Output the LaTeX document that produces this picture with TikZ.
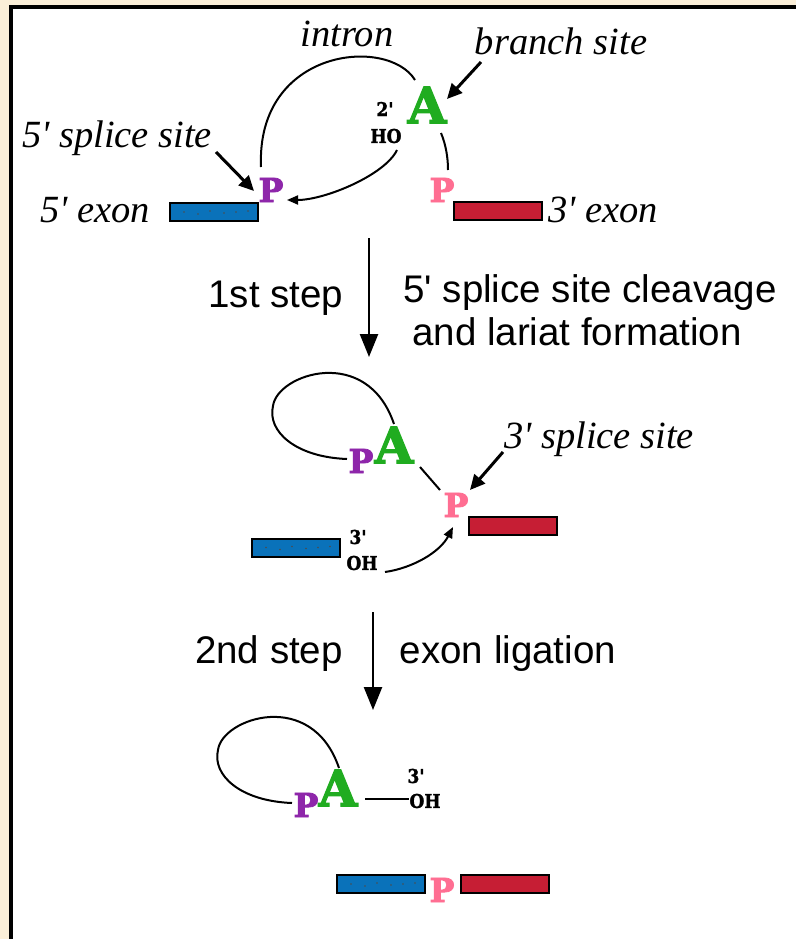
\documentclass[tikz,border=0pt]{standalone}
\usepackage{fontspec}
\usetikzlibrary{arrows.meta,calc}
\newfontfamily\capfont{Liberation Serif}
\newfontfamily\labfont{Liberation Sans}
\newfontfamily\letfont[BoldFeatures={FakeBold=2.5}]{DejaVu Serif}
\newfontfamily\chemfont[BoldFeatures={FakeBold=1.5}]{DejaVu Serif Condensed}
\definecolor{beige}{RGB}{251,239,216}
\definecolor{exblue}{RGB}{10,114,186}
\definecolor{exred}{RGB}{198,30,52}
\definecolor{ntgreen}{RGB}{32,172,32}
\definecolor{ntpurple}{RGB}{142,38,170}
\definecolor{ntpink}{RGB}{255,110,146}
\tikzset{
  itlab/.style={inner sep=0pt,font=\capfont\itshape\fontsize{38.5}{44}\selectfont},
  sflab/.style={inner sep=0pt,font=\labfont\fontsize{38.5}{43}\selectfont},
  chem/.style={inner sep=0pt,font=\chemfont\bfseries\fontsize{19}{19}\selectfont},
  bigA/.style={inner sep=0pt,text=ntgreen,font=\letfont\bfseries\fontsize{50}{50}\selectfont},
  phos/.style={inner sep=0pt,font=\letfont\bfseries\fontsize{33}{33}\selectfont},
  exonbox/.style={draw=black,line width=2pt,minimum height=18pt,inner sep=0pt},
  bluebox/.style={exonbox,fill=exblue,minimum width=88pt},
  redbox/.style={exonbox,fill=exred,minimum width=88pt},
  strand/.style={line width=2pt},
  curvearrow/.style={line width=2pt,-{Triangle[length=11pt,width=9pt]}},
  pointer/.style={line width=3pt,-{Triangle[length=15pt,width=14pt]}},
  steparrow/.style={line width=2.5pt,-{Triangle[length=23pt,width=18pt]}},
}
\begin{document}
\begin{tikzpicture}[x=1pt,y=-1pt]
\useasboundingbox (0,0) rectangle (796,939);
% frame
\fill[beige] (0,0) rectangle (796,939);
\fill[white] (12,8) rectangle (796,939);
\draw[line width=3.5pt] (10.75,939) -- (10.75,7) -- (796,7);

% ---------- top: pre-mRNA ----------
\node[itlab,anchor=base] (intron) at (347,47) {intron};
\node[itlab,anchor=base] (branch) at (561,55) {branch site};
\node[itlab,anchor=base] (ss5) at (117,147) {5' splice site};
\node[itlab,anchor=base] (ex5) at (95,222) {5' exon};
\node[itlab,anchor=base] (ex3) at (603,222) {3' exon};

\node[bluebox] (b1) at (214,212) {};
\node[redbox] (r1) at (497.5,211) {};
\node[phos,text=ntpurple] (p1) at (271,190) {P};
\node[phos,text=ntpink] (q1) at (442,190) {P};
\node[bigA] (a1) at (427,105) {A};
\node[chem] (two) at (385,109) {2'};
\node[chem] (ho) at (386,136) {HO};

\coordinate (i1s) at (261,167);
\coordinate (i1e) at (415,80);
\draw[strand] (i1s) .. controls (256,48) and (388,36) .. (i1e);
\coordinate (h1s) at (397,150);
\coordinate (h1e) at (287,200);
\draw[curvearrow] (h1s) .. controls (385,175) and (325,200) .. (h1e);
\coordinate (l1s) at (441,133);
\coordinate (l1e) at (448,170);
\draw[strand] (l1s) .. controls (446,145) and (448,158) .. (l1e);
\coordinate (bs1) at (481,62);
\coordinate (bs2) at (447,99);
\draw[pointer] (bs1) -- (bs2);
\coordinate (ss1) at (216,152);
\coordinate (ss2) at (254,191);
\draw[pointer] (ss1) -- (ss2);

% dots in blue boxes
\foreach \dx/\dy in {-30/0,-16/2,-4/-1,10/1,22/0,34/-1}{
  \fill[black!70] ($(b1)+(\dx,\dy)$) circle (0.8pt);
}

% ---------- step 1 ----------
\coordinate (s1a) at (369,238);
\coordinate (s1b) at (369,357);
\draw[steparrow] (s1a) -- (s1b);
\node[sflab,anchor=base] (st1) at (276,307) {1st step};
\node[sflab,anchor=base] (d1a) at (590,302) {5' splice site cleavage};
\node[sflab,anchor=base] (d1b) at (577,345) {and lariat formation};

% ---------- middle: lariat intermediate ----------
\node[phos,text=ntpurple] (p2) at (361,461) {P};
\node[bigA] (a2) at (394,445) {A};
\node[phos,text=ntpink] (q2) at (456,505) {P};
\node[redbox] (r2) at (512.5,526) {};
\node[bluebox] (b2) at (296,547.5) {};
\node[chem] (three2) at (358,537) {3'};
\node[chem] (oh2) at (362,563) {OH};
\node[itlab,anchor=base] (ss3) at (599,448) {3' splice site};

\coordinate (m2s) at (347,459);
\coordinate (m2m) at (273,406);
\coordinate (m2e) at (394,424);
\draw[strand] (m2s) .. controls (295,457) and (267,431) .. (m2m)
                    .. controls (277,374) and (367,344) .. (m2e);
\coordinate (l2s) at (420,467);
\coordinate (l2e) at (440,490);
\draw[strand] (l2s) -- (l2e);
\coordinate (t3a) at (503,452);
\coordinate (t3b) at (470,490);
\draw[pointer] (t3a) -- (t3b);
\coordinate (o2s) at (385,572);
\coordinate (o2e) at (453,527);
\draw[curvearrow] (o2s) .. controls (413,568) and (440,552) .. (o2e);
\foreach \dx/\dy in {-30/0,-16/2,-4/-1,10/1,22/0,34/-1}{
  \fill[black!70] ($(b2)+(\dx,\dy)$) circle (0.8pt);
}

% ---------- step 2 ----------
\coordinate (s2a) at (373,612);
\coordinate (s2b) at (373,710);
\draw[steparrow] (s2a) -- (s2b);
\node[sflab,anchor=base] (st2) at (269,663) {2nd step};
\node[sflab,anchor=base] (d2) at (508,663) {exon ligation};

% ---------- bottom: products ----------
\node[phos,text=ntpurple] (p3) at (306,805) {P};
\node[bigA] (a3) at (338,788) {A};
\node[chem] (three3) at (416,776) {3'};
\node[chem] (oh3) at (425,801) {OH};
\coordinate (m3s) at (292,803);
\coordinate (m3m) at (218,750);
\coordinate (m3e) at (339,768);
\draw[strand] (m3s) .. controls (240,801) and (212,775) .. (m3m)
                    .. controls (222,718) and (312,688) .. (m3e);
\coordinate (l3s) at (365,799);
\coordinate (l3e) at (409,799);
\draw[strand] (l3s) -- (l3e);

\node[bluebox] (b3) at (381,884) {};
\node[phos,text=ntpink] (q3) at (442,890) {P};
\node[redbox] (r3) at (505,883.5) {};
\foreach \dx/\dy in {-30/0,-16/2,-4/-1,10/1,22/0,34/-1}{
  \fill[black!70] ($(b3)+(\dx,\dy)$) circle (0.8pt);
}
\end{tikzpicture}
\end{document}
